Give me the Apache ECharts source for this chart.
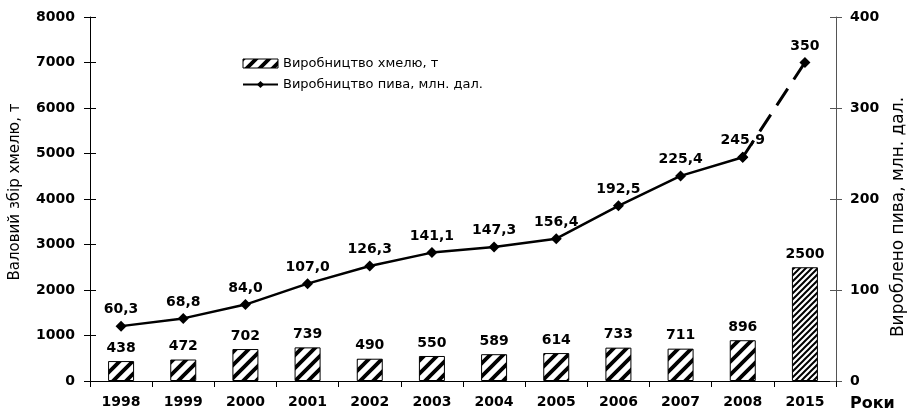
<!DOCTYPE html>
<html>
<head>
<meta charset="utf-8">
<script src="https://cdn.jsdelivr.net/npm/echarts@6/dist/echarts.min.js"></script>
<style>
  html, body { margin: 0; padding: 0; background: #fff; }
  #chart { width: 908px; height: 414px; }
</style>
</head>
<body>
<div id="chart"></div>
<script>
var years = ['1998', '1999', '2000', '2001', '2002', '2003', '2004', '2005', '2006', '2007', '2008', '2015']
var hops = [438, 472, 702, 739, 490, 550, 589, 614, 733, 711, 896, 2500]
var beer = [60.3, 68.8, 84.0, 107.0, 126.3, 141.1, 147.3, 156.4, 192.5, 225.4, 245.9, 350]
var hopsName = 'Виробництво хмелю, т'
var beerName = 'Виробництво пива, млн. дал.'

// stripe tiles for the bars
var makeStripes = function (size, width) {
    var c = document.createElement('canvas')
    c.width = size
    c.height = size
    var ctx = c.getContext('2d')
    ctx.fillStyle = '#fff'
    ctx.fillRect(0, 0, size, size)
    ctx.strokeStyle = '#000'
    ctx.lineWidth = width
    ctx.beginPath()
    ctx.moveTo(-1, size + 1); ctx.lineTo(size + 1, -1)
    ctx.moveTo(-size / 2 - 1, size / 2 + 1); ctx.lineTo(size / 2 + 1, -size / 2 - 1)
    ctx.moveTo(size / 2 - 1, size * 1.5 + 1); ctx.lineTo(size * 1.5 + 1, size / 2 - 1)
    ctx.stroke()
    return c
}
var wide = { image: makeStripes(13, 3.8), repeat: 'repeat' }
var dense = { image: makeStripes(6, 2), repeat: 'repeat' }

var fmt = function (v) {
    return v === 350 ? '350' : v.toFixed(1).replace('.', ',')
}

var solid = beer.map(function (v, i) { return i < 11 ? v : '-' })
var dashed = beer.map(function (v, i) { return i >= 10 ? v : '-' })

var bold = { fontFamily: 'DejaVu Sans', fontWeight: 'bold', fontSize: 14, color: '#000' }

var charts = echarts.init(document.getElementById('chart'))
var option = {
    animation: false,
    textStyle: { fontFamily: 'DejaVu Sans' },
    legend: {
        orient: 'vertical',
        left: 242,
        top: 57,
        padding: 0,
        itemGap: 8,
        itemWidth: 35,
        itemHeight: 9,
        textStyle: { fontFamily: 'DejaVu Sans', fontSize: 13, color: '#000' },
        data: [
            { name: hopsName, icon: 'rect', itemStyle: { color: wide, borderColor: '#000', borderWidth: 1 } },
            { name: beerName }
        ]
    },
    grid: { left: 90, right: 72, top: 17, bottom: 33, outerBoundsMode: 'none' },
    xAxis: {
        type: 'category',
        data: years,
        name: 'Роки',
        nameLocation: 'end',
        nameGap: 14,
        nameTextStyle: { fontFamily: 'DejaVu Sans', fontWeight: 'bold', fontSize: 16, color: '#000', verticalAlign: 'top', padding: [15, 0, 0, 0] },
        axisLine: { lineStyle: { color: '#000', width: 1 } },
        axisTick: { show: true, length: 6, lineStyle: { color: '#000' } },
        axisLabel: Object.assign({ margin: 14 }, bold)
    },
    yAxis: [
        {
            type: 'value', position: 'left', min: 0, max: 8000, interval: 1000,
            name: 'Валовий збір хмелю, т', nameLocation: 'middle', nameGap: 67,
            nameTextStyle: { fontFamily: 'DejaVu Sans', fontSize: 15, color: '#000', padding: [0, 0, 0, 14] },
            axisLine: { show: true, lineStyle: { color: '#000' } },
            axisTick: { show: true, length: 6, lineStyle: { color: '#000' } },
            axisLabel: Object.assign({ margin: 15, formatter: function (v) { return String(v) } }, bold),
            splitLine: { show: false }
        },
        {
            type: 'value', position: 'right', min: 0, max: 400, interval: 100,
            name: 'Вироблено пива, млн. дал.', nameLocation: 'middle', nameGap: 49,
            nameTextStyle: { fontFamily: 'DejaVu Sans', fontSize: 17, color: '#000', padding: [0, 36, 0, 0] },
            axisLine: { show: true, lineStyle: { color: '#555' } },
            axisTick: { show: true, length: 6, lineStyle: { color: '#555' } },
            axisLabel: Object.assign({ margin: 14 }, bold),
            splitLine: { show: false }
        },
        {
            type: 'value', position: 'left', min: 0, max: 8000, interval: 1000,
            axisLine: { show: false }, axisLabel: { show: false }, splitLine: { show: false },
            axisTick: { show: true, inside: true, length: 6, lineStyle: { color: '#000' } }
        },
        {
            type: 'value', position: 'right', min: 0, max: 400, interval: 100,
            axisLine: { show: false }, axisLabel: { show: false }, splitLine: { show: false },
            axisTick: { show: true, inside: true, length: 6, lineStyle: { color: '#555' } }
        }
    ],
    series: [
        {
            name: hopsName,
            type: 'bar',
            yAxisIndex: 0,
            barWidth: 26,
            data: hops.map(function (v, i) {
                return { value: v, itemStyle: { color: i === 11 ? dense : wide } }
            }),
            itemStyle: { color: wide, borderColor: '#000', borderWidth: 1 },
            label: Object.assign({ show: true, position: 'top', distance: 6 }, bold)
        },
        {
            name: beerName,
            type: 'line',
            yAxisIndex: 1,
            data: solid,
            symbol: 'diamond',
            symbolSize: 11,
            itemStyle: { color: '#000' },
            lineStyle: { color: '#000', width: 2.5 },
            label: Object.assign({ show: true, position: 'top', distance: 4, formatter: function (p) { return fmt(p.value) } }, bold),
            z: 3
        },
        {
            name: beerName + ' прогноз',
            type: 'line',
            yAxisIndex: 1,
            data: dashed,
            symbol: 'diamond',
            symbolSize: 11,
            itemStyle: { color: '#000' },
            lineStyle: { color: '#000', width: 3, type: [20, 11] },
            label: Object.assign({
                show: true, position: 'top', distance: 4,
                formatter: function (p) { return p.dataIndex === 11 ? fmt(p.value) : '' }
            }, bold),
            z: 3
        }
    ]
}
charts.setOption(option, true)
</script>
</body>
</html>
